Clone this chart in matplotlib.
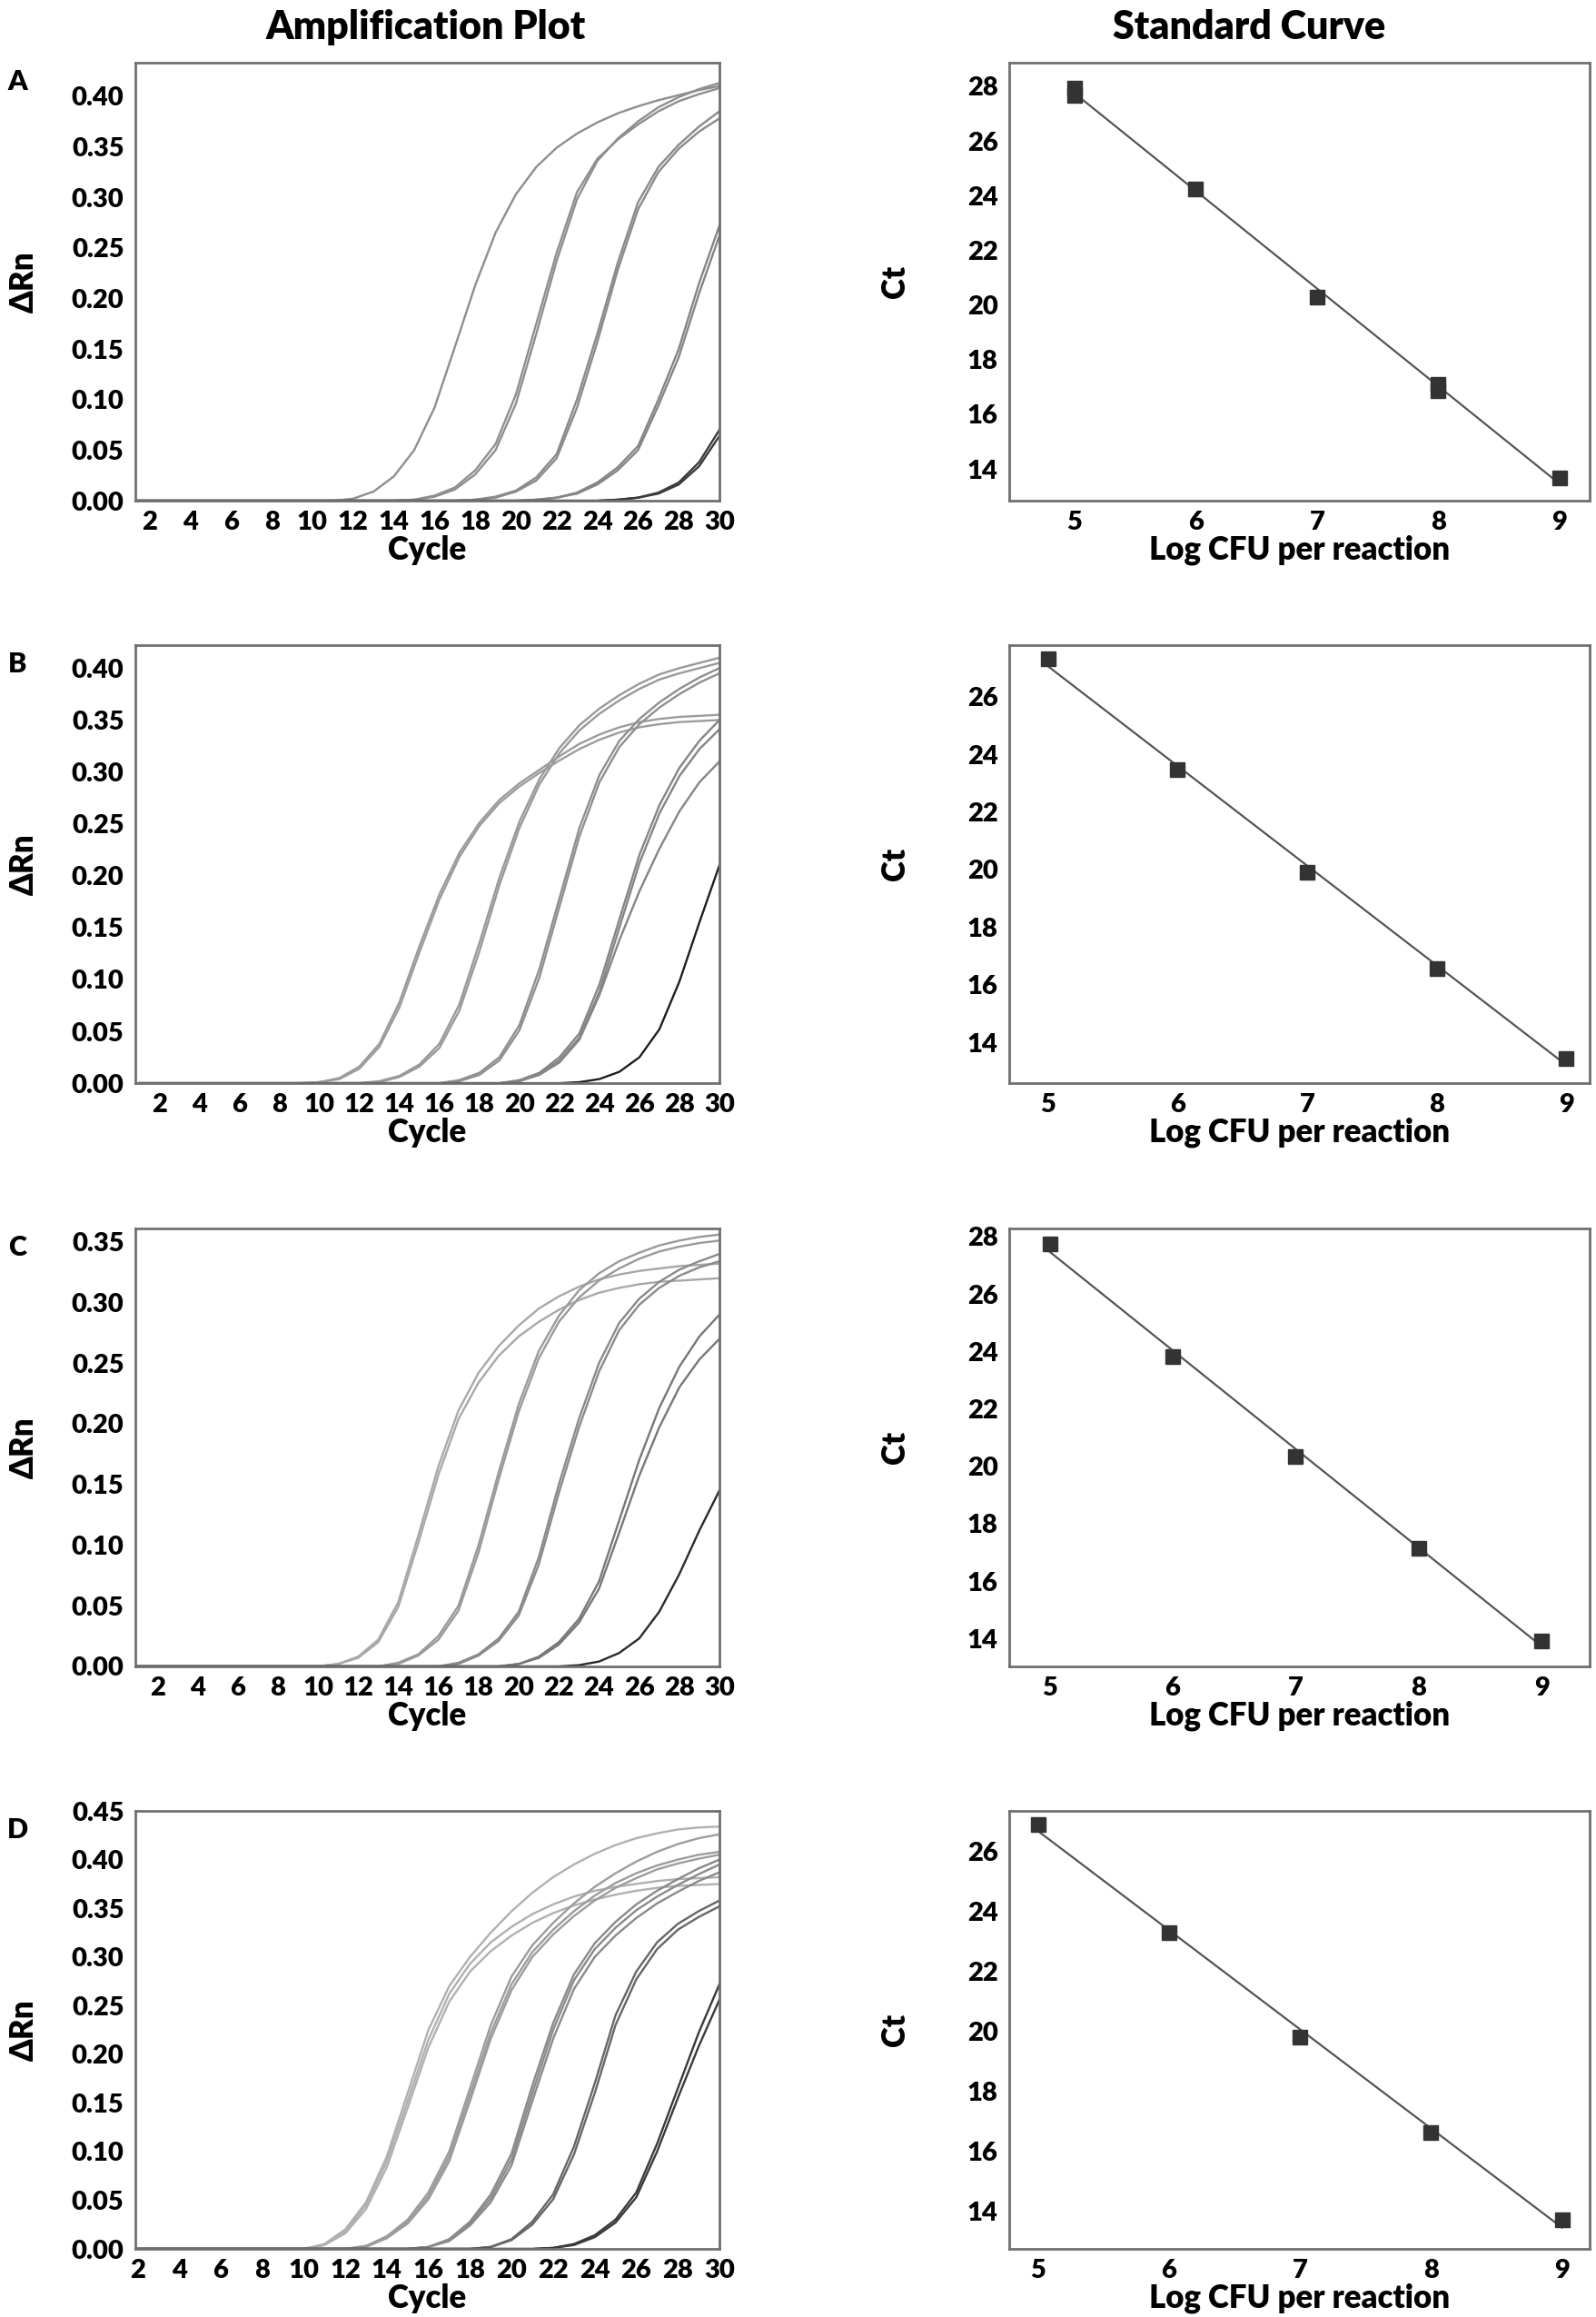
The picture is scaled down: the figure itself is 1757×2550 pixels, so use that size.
"""
qPCR amplification plots and standard curves, panels A-D
"""
import numpy as np
import matplotlib
matplotlib.use("Agg")
import matplotlib.pyplot as plt

plt.rcParams["font.family"] = ["Lato", "DejaVu Sans"]
plt.rcParams["font.weight"] = "heavy"

CYCLES = np.arange(1, 31)

# ── Panel A: amplification curves (values from start cycle up to cycle 30) ──
A_START = [11, 15, 15, 18, 18, 21, 21, 24, 24]
A_GROUP = [0, 1, 1, 2, 2, 3, 3, 4, 4]
A_CURVES = [
    [0.000, 0.002, 0.009, 0.024, 0.050, 0.092, 0.152, 0.213, 0.265, 0.303,
     0.330, 0.349, 0.363, 0.374, 0.383, 0.390, 0.396, 0.401, 0.406, 0.410],
    [0.001, 0.005, 0.013, 0.030, 0.056, 0.105, 0.175, 0.245, 0.305, 0.338,
     0.357, 0.372, 0.385, 0.395, 0.402, 0.408],
    [0.001, 0.004, 0.011, 0.026, 0.050, 0.096, 0.165, 0.237, 0.298, 0.336,
     0.358, 0.375, 0.389, 0.399, 0.407, 0.413],
    [0.001, 0.004, 0.010, 0.023, 0.046, 0.100, 0.165, 0.235, 0.295, 0.330,
     0.352, 0.370, 0.385],
    [0.001, 0.003, 0.009, 0.020, 0.042, 0.092, 0.157, 0.228, 0.288, 0.325,
     0.348, 0.365, 0.378],
    [0.001, 0.003, 0.008, 0.018, 0.033, 0.054, 0.100, 0.150, 0.215, 0.272],
    [0.001, 0.003, 0.007, 0.016, 0.030, 0.050, 0.094, 0.142, 0.205, 0.262],
    [0.000, 0.001, 0.003, 0.008, 0.018, 0.038, 0.070],
    [0.000, 0.001, 0.003, 0.007, 0.016, 0.034, 0.064],
]
A_LOG = [5, 5, 6, 7, 8, 8, 9]
A_CT = [27.93, 27.68, 24.25, 20.3, 17.08, 16.88, 13.68]

# ── Panel B ──
B_START = [9, 9, 12, 12, 16, 16, 19, 19, 19, 22]
B_GROUP = [0, 0, 1, 1, 2, 2, 3, 3, 3, 4]
B_CURVES = [
    [0.000, 0.001, 0.005, 0.016, 0.038, 0.078, 0.132, 0.182, 0.222, 0.251,
     0.273, 0.289, 0.302, 0.315, 0.327, 0.336, 0.343, 0.348, 0.351, 0.353,
     0.354, 0.355],
    [0.000, 0.001, 0.004, 0.014, 0.035, 0.073, 0.126, 0.177, 0.218, 0.248,
     0.270, 0.286, 0.299, 0.311, 0.322, 0.331, 0.338, 0.343, 0.346, 0.348,
     0.349, 0.350],
    [0.000, 0.002, 0.007, 0.018, 0.038, 0.076, 0.135, 0.198, 0.252, 0.293,
     0.323, 0.345, 0.361, 0.374, 0.385, 0.394, 0.400, 0.405, 0.410],
    [0.000, 0.001, 0.006, 0.016, 0.034, 0.070, 0.127, 0.191, 0.246, 0.288,
     0.318, 0.340, 0.356, 0.369, 0.380, 0.389, 0.395, 0.400, 0.405],
    [0.000, 0.003, 0.010, 0.025, 0.056, 0.110, 0.178, 0.246, 0.297, 0.330,
     0.351, 0.367, 0.380, 0.391, 0.400],
    [0.000, 0.002, 0.008, 0.022, 0.051, 0.102, 0.170, 0.238, 0.290, 0.324,
     0.346, 0.362, 0.375, 0.386, 0.395],
    [0.000, 0.003, 0.010, 0.025, 0.048, 0.095, 0.158, 0.220, 0.268, 0.304,
     0.330, 0.350],
    [0.000, 0.002, 0.009, 0.022, 0.044, 0.088, 0.150, 0.212, 0.260, 0.296,
     0.322, 0.341],
    [0.000, 0.002, 0.008, 0.020, 0.042, 0.085, 0.138, 0.185, 0.226, 0.262,
     0.290, 0.310],
    [0.000, 0.001, 0.004, 0.011, 0.025, 0.052, 0.098, 0.155, 0.210],
]
B_LOG = [5, 6, 7, 8, 9]
B_CT = [27.3, 23.45, 19.9, 16.55, 13.45]

# ── Panel C ──
C_START = [10, 10, 13, 13, 16, 16, 19, 19, 22]
C_GROUP = [0, 0, 1, 1, 2, 2, 3, 3, 4]
C_CURVES = [
    [0.000, 0.002, 0.008, 0.022, 0.053, 0.108, 0.165, 0.211, 0.242, 0.264,
     0.281, 0.295, 0.305, 0.313, 0.319, 0.323, 0.326, 0.328, 0.330, 0.331,
     0.332],
    [0.000, 0.002, 0.007, 0.020, 0.049, 0.102, 0.158, 0.204, 0.234, 0.256,
     0.272, 0.284, 0.294, 0.302, 0.308, 0.312, 0.315, 0.317, 0.318, 0.319,
     0.320],
    [0.000, 0.003, 0.010, 0.025, 0.050, 0.100, 0.160, 0.216, 0.260, 0.289,
     0.310, 0.324, 0.334, 0.341, 0.347, 0.351, 0.354, 0.356],
    [0.000, 0.002, 0.009, 0.022, 0.046, 0.094, 0.154, 0.210, 0.254, 0.284,
     0.304, 0.318, 0.328, 0.336, 0.342, 0.346, 0.349, 0.351],
    [0.000, 0.003, 0.010, 0.023, 0.045, 0.090, 0.150, 0.204, 0.250, 0.283,
     0.303, 0.317, 0.327, 0.334, 0.340],
    [0.000, 0.002, 0.009, 0.021, 0.042, 0.084, 0.143, 0.197, 0.243, 0.277,
     0.298, 0.312, 0.322, 0.329, 0.334],
    [0.000, 0.002, 0.008, 0.020, 0.039, 0.070, 0.120, 0.170, 0.213, 0.247,
     0.272, 0.290],
    [0.000, 0.002, 0.007, 0.018, 0.036, 0.064, 0.110, 0.157, 0.197, 0.230,
     0.253, 0.270],
    [0.000, 0.001, 0.004, 0.011, 0.023, 0.045, 0.076, 0.112, 0.145],
]
C_LOG = [5, 6, 7, 8, 9]
C_CT = [27.75, 23.83, 20.34, 17.15, 13.92]

# ── Panel D ──
D_START = [10, 10, 10, 12, 12, 12, 15, 15, 15, 18, 18, 21, 21]
D_GROUP = [0, 0, 0, 1, 1, 1, 2, 2, 2, 3, 3, 4, 4]
D_CURVES = [
    [0.000, 0.005, 0.020, 0.048, 0.095, 0.160, 0.225, 0.270, 0.300, 0.325,
     0.347, 0.366, 0.382, 0.395, 0.406, 0.415, 0.422, 0.427, 0.431, 0.433,
     0.434],
    [0.000, 0.004, 0.018, 0.045, 0.090, 0.152, 0.215, 0.262, 0.293, 0.315,
     0.331, 0.344, 0.354, 0.362, 0.368, 0.372, 0.375, 0.378, 0.380, 0.381,
     0.382],
    [0.000, 0.004, 0.016, 0.041, 0.084, 0.145, 0.207, 0.254, 0.285, 0.306,
     0.322, 0.335, 0.345, 0.353, 0.359, 0.364, 0.368, 0.371, 0.373, 0.374,
     0.375],
    [0.000, 0.003, 0.013, 0.030, 0.058, 0.100, 0.165, 0.230, 0.280, 0.312,
     0.335, 0.355, 0.372, 0.386, 0.398, 0.408, 0.416, 0.422, 0.426],
    [0.000, 0.003, 0.012, 0.028, 0.054, 0.095, 0.158, 0.222, 0.272, 0.305,
     0.328, 0.347, 0.363, 0.376, 0.386, 0.394, 0.400, 0.405, 0.408],
    [0.000, 0.002, 0.011, 0.026, 0.051, 0.090, 0.152, 0.216, 0.266, 0.300,
     0.323, 0.342, 0.358, 0.371, 0.381, 0.390, 0.396, 0.401, 0.405],
    [0.000, 0.002, 0.010, 0.028, 0.056, 0.098, 0.168, 0.232, 0.282, 0.314,
     0.336, 0.354, 0.368, 0.380, 0.391, 0.400],
    [0.000, 0.002, 0.009, 0.026, 0.052, 0.092, 0.160, 0.225, 0.276, 0.308,
     0.330, 0.348, 0.362, 0.374, 0.385, 0.395],
    [0.000, 0.002, 0.008, 0.024, 0.048, 0.086, 0.152, 0.216, 0.267, 0.300,
     0.322, 0.340, 0.355, 0.367, 0.378, 0.387],
    [0.000, 0.002, 0.010, 0.028, 0.056, 0.105, 0.170, 0.240, 0.285, 0.315,
     0.334, 0.347, 0.358],
    [0.000, 0.002, 0.009, 0.025, 0.051, 0.097, 0.160, 0.230, 0.277, 0.308,
     0.328, 0.341, 0.352],
    [0.000, 0.001, 0.005, 0.014, 0.030, 0.058, 0.108, 0.165, 0.222, 0.272],
    [0.000, 0.001, 0.004, 0.012, 0.027, 0.053, 0.100, 0.155, 0.208, 0.256],
]
D_LOG = [5, 6, 7, 8, 9]
D_CT = [26.9, 23.3, 19.8, 16.62, 13.7]

# ── style / layout ──
PANELS = [
    dict(letter="A", start=A_START, group=A_GROUP, curves=A_CURVES,
         log=A_LOG, ct=A_CT, xlim=(1.3, 30), ylim=(0, 0.433),
         yticks=np.arange(0, 0.41, 0.05), sxlim=(4.46, 9.25),
         sylim=(12.84, 28.86), ctticks=range(14, 29, 2),
         colors=["#8e8e8e", "#8e8e8e", "#8a8a8a", "#858585", "#3a3a3a"]),
    dict(letter="B", start=B_START, group=B_GROUP, curves=B_CURVES,
         log=B_LOG, ct=B_CT, xlim=(0.8, 30), ylim=(0, 0.422),
         yticks=np.arange(0, 0.41, 0.05), sxlim=(4.70, 9.18),
         sylim=(12.58, 27.78), ctticks=range(14, 27, 2),
         colors=["#9c9c9c", "#999999", "#8f8f8f", "#858585", "#1e1e1e"]),
    dict(letter="C", start=C_START, group=C_GROUP, curves=C_CURVES,
         log=C_LOG, ct=C_CT, xlim=(0.9, 30), ylim=(0, 0.361),
         yticks=np.arange(0, 0.36, 0.05), sxlim=(4.67, 9.39),
         sylim=(13.03, 28.28), ctticks=range(14, 29, 2),
         colors=["#a8a8a8", "#9a9a9a", "#8a8a8a", "#777777", "#2a2a2a"]),
    dict(letter="D", start=D_START, group=D_GROUP, curves=D_CURVES,
         log=D_LOG, ct=D_CT, xlim=(1.9, 30), ylim=(0, 0.447),
         yticks=np.arange(0, 0.46, 0.05), sxlim=(4.78, 9.21),
         sylim=(12.74, 27.35), ctticks=range(14, 27, 2),
         colors=["#b0b0b0", "#9c9c9c", "#8a8a8a", "#666666", "#3a3a3a"]),
]

W, H = 1757, 2550
BOTTOMS = [0.7839, 0.5325, 0.2808, 0.0294]
HEIGHT = 0.1890
SPINE = "#707070"
TICK_FS = 21
LABEL_FS = 25
WEIGHT = "heavy"


def style_axes(ax):
    for sp in ax.spines.values():
        sp.set_color(SPINE)
        sp.set_linewidth(2.0)
    ax.tick_params(length=0, labelsize=TICK_FS)
    ax.tick_params(axis="y", pad=9)
    ax.tick_params(axis="x", pad=8)
    for lab in ax.get_xticklabels() + ax.get_yticklabels():
        lab.set_fontweight(WEIGHT)


fig = plt.figure(figsize=(W / 100, H / 100), dpi=100)

for p, bottom in zip(PANELS, BOTTOMS):
    # ── amplification plot ──
    ax = fig.add_axes([149 / W, bottom, 643 / W, HEIGHT])
    for g in sorted(set(p["group"])):
        for st, gi, vals in zip(p["start"], p["group"], p["curves"]):
            if gi != g:
                continue
            y = np.zeros(len(CYCLES))
            y[st - 1:st - 1 + len(vals)] = vals
            ax.plot(CYCLES, y, color=p["colors"][g], lw=1.7)
    ax.set_xlim(*p["xlim"])
    ax.set_ylim(*p["ylim"])
    ax.set_xticks(range(2, 31, 2))
    ax.set_yticks(p["yticks"])
    ax.set_yticklabels([f"{v:.2f}" for v in p["yticks"]])
    style_axes(ax)
    ax.set_xlabel("Cycle", fontsize=LABEL_FS, fontweight=WEIGHT)
    ax.set_ylabel("ΔRn", fontsize=LABEL_FS, fontweight=WEIGHT)
    ax.xaxis.set_label_coords(0.5, -0.078)
    ax.yaxis.set_label_coords(-0.165, 0.5)

    # ── standard curve ──
    ax2 = fig.add_axes([1111 / W, bottom, 639 / W, HEIGHT])
    slope, icpt = np.polyfit(p["log"], p["ct"], 1)
    xs = np.array([min(p["log"]), max(p["log"])])
    ax2.plot(xs, slope * xs + icpt, color="#555555", lw=1.6, zorder=2)
    ax2.plot(p["log"], p["ct"], "s", color="#333333", ms=11, zorder=3)
    ax2.set_xlim(*p["sxlim"])
    ax2.set_ylim(*p["sylim"])
    ax2.set_xticks([5, 6, 7, 8, 9])
    ax2.set_yticks(list(p["ctticks"]))
    style_axes(ax2)
    ax2.set_xlabel("Log CFU per reaction", fontsize=LABEL_FS, fontweight=WEIGHT)
    ax2.set_ylabel("Ct", fontsize=LABEL_FS, fontweight=WEIGHT)
    ax2.xaxis.set_label_coords(0.5, -0.078)
    ax2.yaxis.set_label_coords(-0.171, 0.5)

    top_px = (1 - bottom - HEIGHT) * H
    fig.text(19 / W, 1 - (top_px + 21) / H, p["letter"], ha="center",
             va="center", fontsize=22, fontweight=WEIGHT)

fig.text(469 / W, 1 - 30 / H, "Amplification Plot", ha="center", va="center",
         fontsize=31, fontweight=WEIGHT)
fig.text(1375 / W, 1 - 30 / H, "Standard Curve", ha="center", va="center",
         fontsize=31, fontweight=WEIGHT)

fig.savefig("out.png", dpi=100)
plt.close(fig)
